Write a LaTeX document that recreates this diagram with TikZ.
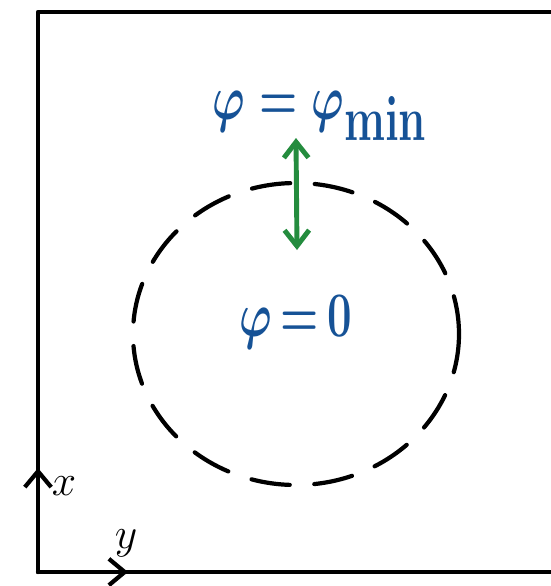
\documentclass[tikz,border=0pt]{standalone}
\usepackage{graphicx}
\usepackage{tikz}
\usetikzlibrary{arrows.meta, positioning}
\usepackage{xcolor}
\definecolor{pblue}{RGB}{22,82,150}
\definecolor{pgreen}{RGB}{36,140,62}
\newcommand{\tallmath}[1]{\scalebox{1}[1.45]{$#1$}}

\begin{document}
\begin{tikzpicture}[x=0.02cm, y=-0.02cm,
    pen/.style={line width=2.4pt, line cap=round, line join=round},
    barb/.style={-{Straight Barb[length=9pt,width=15pt,line width=2.4pt]}},
    phitext/.style={text=pblue, inner sep=1pt, font=\fontsize{44}{46}\selectfont\boldmath}]
  \useasboundingbox (0,0) rectangle (551,586);
  % frame (open on the right)
  \coordinate (corner) at (38,572);
  \draw[pen] (551,12) -- (38,12) -- (corner) -- (551,572);
  % axes
  \coordinate (xtip) at (38,468);
  \coordinate (ytip) at (128,572);
  \draw[pen,barb] (corner) -- (xtip);
  \draw[pen,barb] (corner) -- (ytip);
  \node[font=\fontsize{24}{26}\selectfont] (xlbl) at (64,486) {$x$};
  \node[font=\fontsize{24}{26}\selectfont] (ylbl) at (126,543) {$y$};
  % region
  \draw[pen, dash pattern=on 22pt off 14pt] (296,334) ellipse [x radius=163, y radius=151];
  \node[phitext] (phimin) at (320,116) {\tallmath{\varphi = \varphi_{\mathrm{min}}}};
  \node[phitext] (phizero) at (296,322) {\tallmath{\varphi\,{=}\,0}};
  % green double arrow
  \coordinate (top) at (296,138);
  \coordinate (bot) at (297,250);
  \draw[pgreen, line width=2.8pt,
    {Straight Barb[length=9pt,width=14pt,line width=2.8pt]}-{Straight Barb[length=9pt,width=14pt,line width=2.8pt]}]
    (top) -- (bot);
\end{tikzpicture}
\end{document}
